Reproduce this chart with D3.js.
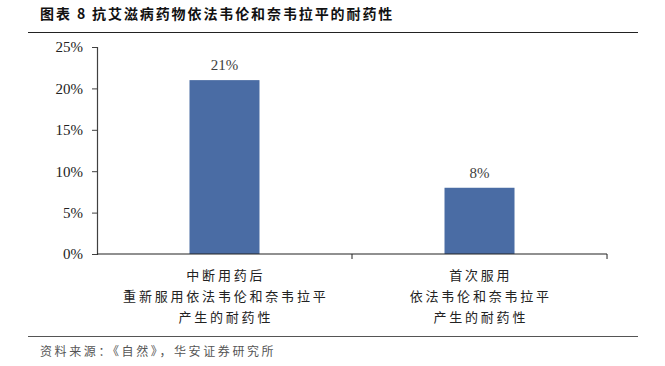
<!DOCTYPE html>
<html><head><meta charset="utf-8">
<script src="https://cdn.jsdelivr.net/npm/d3@7"></script>
<style>body{margin:0;background:#fff}svg{display:block}</style>
</head><body>
<script>
const title = "图表 8 抗艾滋病药物依法韦伦和奈韦拉平的耐药性";
const source = "资料来源：《自然》，华安证券研究所";
const categories = [
  ["中断用药后", "重新服用依法韦伦和奈韦拉平", "产生的耐药性"],
  ["首次服用", "依法韦伦和奈韦拉平", "产生的耐药性"]
];
const values = [0.21, 0.08];
const yTicks = [0, 0.05, 0.10, 0.15, 0.20, 0.25];

const W = 665, H = 366;
const svg = d3.select("body").append("svg").attr("width", W).attr("height", H);
const cjk = "'Noto Sans CJK SC', sans-serif";
const serif = "'Liberation Serif', 'Times New Roman', serif";

svg.append("text").attr("x", 40).attr("y", 19)
  .attr("font-family", cjk).attr("font-weight", "bold").attr("font-size", 14)
  .attr("letter-spacing", 1.9).attr("fill", "#111").text(title);
svg.append("line").attr("x1", 28).attr("x2", 638).attr("y1", 32.5).attr("y2", 32.5)
  .attr("stroke", "#222").attr("stroke-width", 1.2);
svg.append("line").attr("x1", 28).attr("x2", 638).attr("y1", 336.5).attr("y2", 336.5)
  .attr("stroke", "#555").attr("stroke-width", 1.2);
svg.append("text").attr("x", 40).attr("y", 356)
  .attr("font-family", cjk).attr("font-size", 12).attr("letter-spacing", 2.6)
  .attr("fill", "#555").text(source);

const x = d3.scaleBand().domain(d3.range(values.length)).range([97, 607])
  .paddingInner(0.7255).paddingOuter(0.3627);
const y = d3.scaleLinear().domain([0, 0.25]).range([254, 47]);

const g = svg.append("g");
g.selectAll("rect.bar").data(values).join("rect").attr("class", "bar")
  .attr("x", (d, i) => x(i)).attr("width", x.bandwidth())
  .attr("y", d => y(d)).attr("height", d => y(0) - y(d))
  .attr("fill", "#4A6CA4");

g.selectAll("text.lbl").data(values).join("text").attr("class", "lbl")
  .attr("x", (d, i) => x(i) + x.bandwidth() / 2).attr("y", d => y(d) - 10)
  .attr("text-anchor", "middle").attr("font-family", serif).attr("font-size", 15)
  .attr("fill", "#404040").text(d => d3.format(".0%")(d));

// y axis
const ya = svg.append("g").attr("transform", "translate(97,0)")
  .call(d3.axisLeft(y).tickValues(yTicks).tickFormat(d3.format(".0%")).tickSize(5).tickPadding(9));
ya.select(".domain").attr("stroke", "#404040").attr("stroke-width", 1.2);
ya.selectAll(".tick line").attr("stroke", "#404040");
ya.selectAll("text").attr("font-family", serif).attr("font-size", 15).attr("fill", "#222");

// x axis
const bounds = [97, 97 + x.step(), 97 + 2 * x.step()];
const xa = svg.append("g");
xa.append("line").attr("x1", 97).attr("x2", 607).attr("y1", 254).attr("y2", 254)
  .attr("stroke", "#222").attr("stroke-width", 1.2);
xa.selectAll("line.t").data(bounds.slice(1)).join("line").attr("class", "t")
  .attr("x1", d => d).attr("x2", d => d).attr("y1", 254).attr("y2", 259)
  .attr("stroke", "#222");

categories.forEach((lines, i) => {
  const cx = x(i) + x.bandwidth() / 2;
  lines.forEach((s, j) => {
    svg.append("text").attr("x", cx + 1.3).attr("y", 280 + j * 21)
      .attr("text-anchor", "middle").attr("font-family", cjk).attr("font-size", 13)
      .attr("letter-spacing", 2.8).attr("fill", "#222").text(s);
  });
});
</script>
</body></html>
